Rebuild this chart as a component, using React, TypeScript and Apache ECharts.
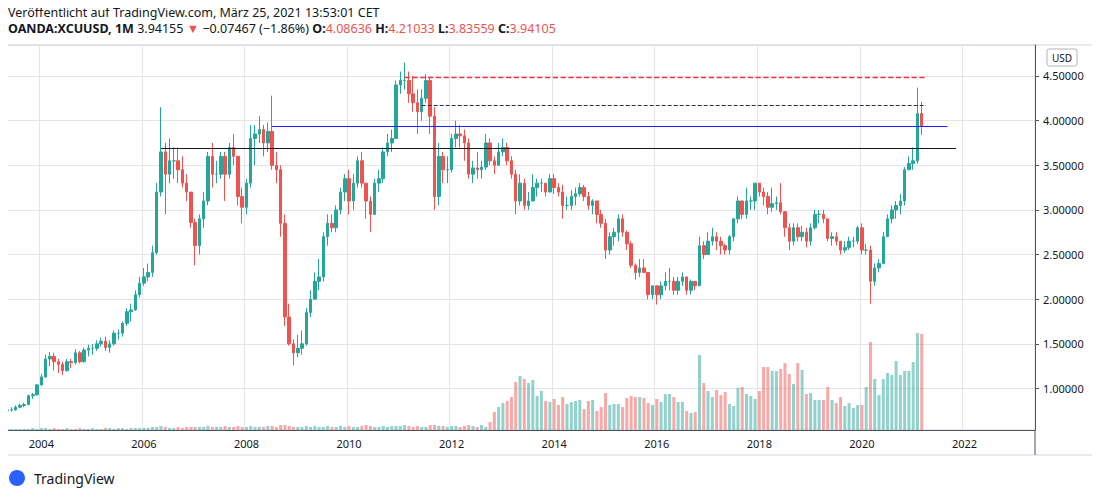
import { useEffect, useRef } from 'react'
import * as echarts from 'echarts'

// monthly closes / highs / lows, 2003-05 .. 2021-03
const closes = [
  0.76, 0.76, 0.79, 0.81, 0.82, 0.92, 0.93, 1.04,
  1.13, 1.33, 1.36, 1.30, 1.27, 1.20, 1.30, 1.29, 1.40, 1.30, 1.43, 1.45,
  1.45, 1.50, 1.53, 1.46, 1.50, 1.62, 1.62, 1.73, 1.86, 1.88, 2.05, 2.18,
  2.25, 2.30, 2.52, 3.20, 3.65, 3.40, 3.55, 3.55, 3.45, 3.30, 3.20, 2.86,
  2.60, 2.90, 3.10, 3.60, 3.40, 3.40, 3.60, 3.40, 3.70, 3.60, 3.15, 3.03,
  3.30, 3.80, 3.85, 3.90, 3.75, 3.88, 3.50, 3.45, 2.85, 1.80, 1.50, 1.40,
  1.45, 1.50, 1.85, 2.00, 2.20, 2.25, 2.70, 2.85, 2.80, 3.00, 3.20, 3.35,
  3.10, 3.30, 3.55, 3.30, 3.10, 2.95, 3.30, 3.35, 3.65, 3.75, 3.80, 4.40,
  4.45, 4.45, 4.30, 4.20, 4.10, 4.25, 4.45, 4.05, 3.15, 3.60, 3.45, 3.45,
  3.80, 3.85, 3.83, 3.75, 3.40, 3.47, 3.45, 3.48, 3.75, 3.55, 3.50, 3.65,
  3.70, 3.55, 3.40, 3.10, 3.30, 3.05, 3.10, 3.25, 3.30, 3.30, 3.20, 3.35,
  3.25, 3.20, 3.05, 3.05, 3.15, 3.18, 3.25, 3.15, 3.05, 3.10, 2.95, 2.85,
  2.55, 2.70, 2.75, 2.90, 2.75, 2.62, 2.38, 2.30, 2.35, 2.30, 2.05, 2.15,
  2.05, 2.15, 2.20, 2.20, 2.10, 2.20, 2.25, 2.10, 2.20, 2.15, 2.60, 2.50,
  2.65, 2.70, 2.65, 2.60, 2.55, 2.70, 2.90, 3.10, 2.95, 3.10, 3.10, 3.30,
  3.20, 3.15, 3.03, 3.07, 3.08, 2.98, 2.80, 2.65, 2.80, 2.70, 2.75, 2.65,
  2.80, 2.95, 2.95, 2.90, 2.68, 2.70, 2.65, 2.55, 2.58, 2.65, 2.65, 2.80,
  2.55, 2.55, 2.20, 2.35, 2.40, 2.70, 2.90, 3.00, 3.05, 3.10, 3.45, 3.52,
  3.55, 4.08, 3.94,
]
const highs = [
  0.78, 0.79, 0.81, 0.83, 0.84, 0.93, 0.95, 1.05,
  1.16, 1.38, 1.41, 1.40, 1.33, 1.30, 1.33, 1.33, 1.44, 1.42, 1.46, 1.49,
  1.50, 1.54, 1.57, 1.58, 1.54, 1.65, 1.66, 1.75, 1.90, 1.95, 2.10, 2.25,
  2.35, 2.40, 2.60, 3.30, 4.15, 3.75, 3.80, 3.70, 3.70, 3.60, 3.40, 3.20,
  2.90, 2.95, 3.20, 3.65, 3.75, 3.55, 3.65, 3.65, 3.75, 3.85, 3.60, 3.25,
  3.35, 3.95, 3.95, 4.05, 3.95, 3.98, 4.28, 3.65, 3.50, 2.95, 1.95, 1.55,
  1.60, 1.65, 1.90, 2.10, 2.30, 2.45, 2.75, 2.95, 2.95, 3.05, 3.25, 3.40,
  3.45, 3.40, 3.60, 3.65, 3.30, 3.15, 3.35, 3.45, 3.70, 3.85, 3.90, 4.45,
  4.55, 4.65, 4.55, 4.50, 4.35, 4.35, 4.52, 4.48, 4.15, 3.75, 3.65, 3.60,
  3.85, 4.00, 3.95, 3.90, 3.80, 3.55, 3.65, 3.55, 3.85, 3.80, 3.60, 3.75,
  3.80, 3.75, 3.60, 3.45, 3.40, 3.35, 3.20, 3.40, 3.35, 3.35, 3.30, 3.40,
  3.40, 3.30, 3.28, 3.15, 3.22, 3.25, 3.30, 3.28, 3.20, 3.12, 3.10, 3.00,
  2.90, 2.75, 2.80, 2.95, 2.95, 2.77, 2.65, 2.40, 2.45, 2.45, 2.30, 2.15,
  2.15, 2.20, 2.30, 2.35, 2.25, 2.25, 2.30, 2.25, 2.22, 2.20, 2.70, 2.65,
  2.75, 2.80, 2.75, 2.70, 2.62, 2.72, 2.90, 3.15, 3.05, 3.25, 3.15, 3.30,
  3.30, 3.25, 3.20, 3.25, 3.15, 3.30, 2.98, 2.85, 2.85, 2.85, 2.82, 2.80,
  2.85, 3.00, 3.00, 3.00, 2.90, 2.75, 2.75, 2.65, 2.65, 2.70, 2.70, 2.82,
  2.85, 2.62, 2.60, 2.40, 2.45, 2.75, 2.95, 3.05, 3.10, 3.18, 3.48, 3.60,
  3.70, 4.37, 4.21,
]
const lows = [
  0.73, 0.74, 0.75, 0.78, 0.79, 0.81, 0.88, 0.92,
  1.03, 1.12, 1.25, 1.20, 1.17, 1.15, 1.19, 1.23, 1.27, 1.28, 1.29, 1.36,
  1.38, 1.42, 1.47, 1.42, 1.40, 1.48, 1.55, 1.58, 1.70, 1.75, 1.87, 2.02,
  2.15, 2.20, 2.25, 2.50, 3.15, 2.95, 3.30, 3.35, 3.30, 3.25, 3.10, 2.80,
  2.38, 2.50, 2.80, 3.05, 3.25, 3.30, 3.35, 3.10, 3.35, 3.50, 3.05, 2.85,
  2.95, 3.25, 3.50, 3.75, 3.60, 3.65, 3.45, 3.30, 2.70, 1.70, 1.48, 1.26,
  1.35, 1.38, 1.48, 1.80, 2.00, 2.10, 2.20, 2.60, 2.75, 2.75, 2.95, 3.10,
  2.95, 3.00, 3.25, 3.25, 2.90, 2.75, 2.95, 3.20, 3.30, 3.60, 3.65, 3.80,
  4.30, 4.35, 4.20, 4.10, 3.85, 4.00, 4.20, 3.85, 3.00, 3.05, 3.30, 3.30,
  3.42, 3.70, 3.70, 3.55, 3.35, 3.30, 3.35, 3.35, 3.45, 3.50, 3.40, 3.50,
  3.60, 3.50, 3.35, 2.95, 3.05, 3.00, 3.00, 3.10, 3.15, 3.20, 3.15, 3.20,
  3.18, 3.15, 2.90, 3.00, 3.00, 3.05, 3.15, 3.10, 3.00, 2.95, 2.85, 2.80,
  2.45, 2.50, 2.60, 2.65, 2.70, 2.55, 2.35, 2.22, 2.25, 2.30, 2.00, 2.00,
  1.94, 2.00, 2.10, 2.10, 2.05, 2.05, 2.15, 2.05, 2.05, 2.10, 2.15, 2.45,
  2.50, 2.60, 2.55, 2.50, 2.50, 2.50, 2.65, 2.85, 2.90, 2.90, 3.00, 3.00,
  3.15, 3.05, 2.95, 2.98, 3.00, 2.95, 2.70, 2.55, 2.60, 2.65, 2.65, 2.58,
  2.60, 2.78, 2.85, 2.85, 2.65, 2.60, 2.60, 2.50, 2.52, 2.55, 2.58, 2.62,
  2.50, 2.50, 1.95, 2.15, 2.30, 2.40, 2.70, 2.85, 2.90, 2.95, 3.05, 3.45,
  3.45, 3.52, 3.84,
]
const firstOpen = 0.75

// volume (relative units)
const volumes = [
  1, 1, 1, 1, 1, 1, 2, 1,
  2, 2, 1, 2, 1, 1, 2, 1, 1, 2, 1, 1,
  2, 1, 1, 2, 2, 1, 2, 2, 1, 2, 2, 2,
  2, 2, 3, 3, 4, 3, 2, 2, 3, 2, 3, 3,
  3, 3, 3, 4, 3, 3, 3, 4, 3, 3, 4, 3,
  3, 4, 3, 3, 3, 4, 4, 3, 5, 5, 4, 3,
  3, 3, 4, 3, 4, 3, 3, 4, 3, 3, 4, 3,
  4, 3, 3, 4, 5, 4, 3, 3, 4, 3, 4, 4,
  4, 5, 4, 3, 4, 3, 3, 5, 5, 4, 4, 3,
  4, 4, 3, 4, 5, 4, 3,
  5, 3, 8, 18, 23, 27, 29, 33, 48, 54, 51, 47, 50, 34, 39, 29, 28, 31, 25, 33,
  26, 28, 29, 30, 21, 29, 30, 19, 23, 37, 25, 26, 26, 23, 32, 34, 33, 33, 32, 27,
  25, 31, 28, 36, 36, 33, 28, 28, 19, 17, 18,
  75, 47, 39, 33, 40, 35, 38, 26, 24, 42, 43, 36, 34, 31, 39, 63, 63, 59, 59, 61,
  67, 56, 46, 67, 60, 36, 37, 30, 30, 30, 43, 30, 27, 33, 24, 27, 22, 25, 25, 43,
  88, 51, 35, 51, 57, 55, 69, 55, 59, 59, 68, 97, 96,
]

const priceTicks = [1.0, 1.5, 2.0, 2.5, 3.0, 3.5, 4.0, 4.5]

// months 2003-05 .. 2023-05
const months: string[] = []
for (let i = 0; i < 241; i++) {
  const y = 2003 + Math.floor((i + 4) / 12)
  const m = ((i + 4) % 12) + 1
  months.push(`${y}-${String(m).padStart(2, '0')}`)
}

const UP = '#26a69a'
const DOWN = '#ef5350'

const isLabelMonth = (_: number, v: string) => v.endsWith('-01') && Number(v.slice(0, 4)) % 2 === 0

export default function App() {
  const ref = useRef<HTMLDivElement>(null)

  useEffect(() => {
    if (!ref.current) return
    const chart = echarts.init(ref.current, undefined, { renderer: 'svg' })

    const candles = closes.map((c, i) => [i === 0 ? firstOpen : closes[i - 1], c, lows[i], highs[i]])
    const vols = volumes.map((v, i) => ({
      value: v,
      itemStyle: { color: candles[i][1] >= candles[i][0] ? 'rgba(38,166,154,0.5)' : 'rgba(239,83,80,0.5)' },
    }))

    const hLine = (from: string, to: string, y: number, color: string, type: 'solid' | 'dashed', width = 1) => ({
      type: 'line' as const,
      data: [],
      color,
      xAxisIndex: 0, yAxisIndex: 0,
      z: 5,
      markLine: {
        silent: true, symbol: 'none', label: { show: false }, z: 10,
        lineStyle: { color, width, type, opacity: 1 },
        data: [[{ coord: [from, y] }, { coord: [to, y] }]],
      },
    })

    chart.setOption({
      animation: false,
      backgroundColor: '#ffffff',
      textStyle: { fontFamily: 'Noto Sans' },
      grid: { left: 5, right: 65, top: 45, bottom: 67, show: true, borderColor: '#d6d8de' },
      xAxis: {
        type: 'category', data: months, boundaryGap: true,
        axisLine: { lineStyle: { color: '#50535e' } },
        axisTick: { interval: isLabelMonth, lineStyle: { color: '#50535e' }, length: 4 },
        axisLabel: { interval: isLabelMonth, color: '#131722', fontSize: 11, formatter: (v: string) => v.slice(0, 4) },
        splitLine: { show: true, interval: isLabelMonth, lineStyle: { color: '#e3e5ea' } },
      },
      yAxis: [
        {
          type: 'value', position: 'right', min: 0.535, max: 4.847,
          axisLine: { show: true, lineStyle: { color: '#50535e' } },
          axisTick: { show: true, customValues: priceTicks, length: 4, lineStyle: { color: '#50535e' } },
          axisLabel: { customValues: priceTicks, color: '#131722', fontSize: 11, formatter: (v: number) => v.toFixed(5) },
          splitLine: { show: false },
        },
        { type: 'value', min: 0, max: 385, show: false },
      ],
      graphic: [
        { type: 'text', left: 8, top: 6, style: { text: 'Veröffentlicht auf TradingView.com, März 25, 2021 13:53:01 CET', fontSize: 12.5, fill: '#131722', fontFamily: 'Noto Sans' } },
        {
          type: 'text', left: 8, top: 22,
          style: {
            text: '{b|OANDA:XCUUSD, 1M} {n|3.94155} {r|▼} {n|−0.07467 (−1.86%)} {b|O:}{r|4.08636} {b|H:}{r|4.21033} {b|L:}{r|3.83559} {b|C:}{r|3.94105}',
            rich: {
              b: { fontWeight: 'bold', fontSize: 12.5, fill: '#131722', fontFamily: 'Noto Sans' },
              n: { fontSize: 12.5, fill: '#131722', fontFamily: 'Noto Sans' },
              r: { fontSize: 12.5, fill: '#ef5350', fontFamily: 'Noto Sans' },
            },
          },
        },
        { type: 'rect', shape: { x: 5, y: 45, width: 1090, height: 410 }, style: { fill: 'none', stroke: '#d6d8de' } },
        { type: 'line', shape: { x1: 1035, y1: 430, x2: 1035, y2: 455 }, style: { stroke: '#50535e' } },
        { type: 'rect', shape: { x: 1047, y: 49, width: 30, height: 17, r: 2 }, style: { fill: '#fff', stroke: '#b2b5be' } },
        { type: 'text', x: 1062, y: 57.5, style: { text: 'USD', fontSize: 10, fill: '#131722', align: 'center', verticalAlign: 'middle', fontFamily: 'Noto Sans' } },
        { type: 'circle', shape: { cx: 17, cy: 478, r: 8 }, style: { fill: '#2962ff' } },
        { type: 'text', x: 34, y: 478, style: { text: 'TradingView', fontSize: 14, fill: '#131722', verticalAlign: 'middle', fontFamily: 'Noto Sans' } },
      ],
      series: [
        {
          // horizontal price gridlines
          type: 'line', data: [], xAxisIndex: 0, yAxisIndex: 0, z: 0,
          markLine: {
            silent: true, symbol: 'none', label: { show: false }, z: 1,
            lineStyle: { color: '#e3e5ea', width: 1, type: 'solid' },
            data: priceTicks.map(v => ({ yAxis: v })),
          },
        },
        {
          type: 'bar', data: vols, xAxisIndex: 0, yAxisIndex: 1, barWidth: 3, silent: true,
        },
        {
          type: 'candlestick', data: candles, xAxisIndex: 0, yAxisIndex: 0, barWidth: 3,
          itemStyle: { color: UP, color0: DOWN, borderColor: UP, borderColor0: DOWN, borderWidth: 1 },
        },
        hLine('2011-02', '2021-04', 4.485, '#f23645', 'dashed', 1.3),
        hLine('2011-06', '2021-04', 4.17, '#2a2e5a', 'dashed'),
        hLine('2008-07', '2021-09', 3.94, '#1e22ff', 'solid'),
        hLine('2006-05', '2021-11', 3.69, '#131722', 'solid'),
      ],
    })

    return () => chart.dispose()
  }, [])

  return <div ref={ref} style={{ width: 1100, height: 497, margin: -8 }} />
}
